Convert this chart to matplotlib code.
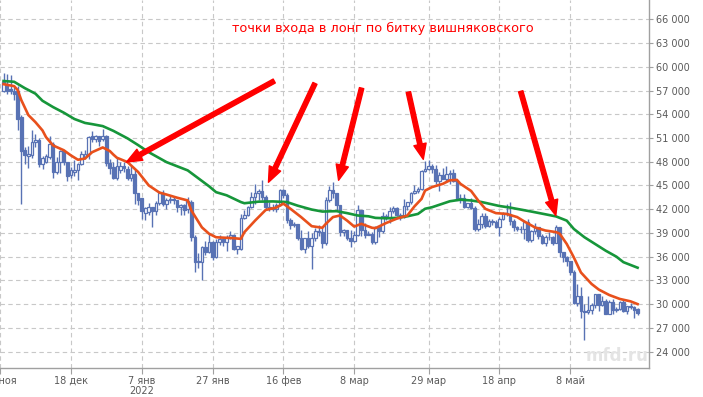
import matplotlib

matplotlib.use("Agg")
import matplotlib.dates as mdates
import matplotlib.pyplot as plt
import numpy as np
import pandas as pd

# дневные свечи BTC, 29 ноя 2021 - 27 май 2022
DAYS = pd.date_range("2021-11-29", "2022-05-27", freq="D")

OPEN = [
    57000, 57800,  # ноя
    57200, 56900, 56900, 53600, 49500, 48700, 48800, 50550, 50800, 47750,
    48000, 48600, 50300, 46700, 47950, 49350, 47950, 46300, 46700, 46900,
    47700, 48600, 49000, 51300, 50900, 51200, 50900, 51300, 47800, 47300, 46000,
    46900, 47500, 47100, 45900, 46400, 44000, 43400, 41500, 41700, 42300,  # янв
    41800, 42800, 44000, 42700, 43200, 43300, 43100, 42300, 42500, 42000,
    42900, 38500, 35300, 35300, 37200, 36600, 37800, 36000, 37900, 38200, 37800,
    38500, 38700, 37000, 37000, 40900, 41300, 42300, 43600, 44000, 44300,  # фев
    43500, 42300, 42100, 42000, 42500, 44400, 43800, 40600, 40000, 40100,
    38400, 37000, 38300, 37300, 38300, 39200, 39100, 37700,
    43200, 44400, 44000, 42500, 39100, 39400, 38400, 38000, 38700, 41900,  # мар
    39400, 38700, 38800, 37800, 39700, 39300, 41100, 40900, 41800, 42200,
    41300, 41000, 42400, 42900, 44000, 44300, 44500, 46800, 47100, 47500, 47100,
    45500, 46300, 45800, 46400, 46600, 45500, 43200, 43400, 42300, 42800,  # апр
    42200, 39500, 40100, 41100, 39900, 40500, 40400, 39700, 40800, 41500,
    41400, 40500, 39700, 39500, 39500, 40400, 38100, 39200, 39700, 38600,
    37700, 38500, 38500, 37700, 39700, 36600, 36000, 35500, 34100, 30100,  # май
    31000, 29100, 29000, 29300, 29900, 31300, 29900, 30400, 28700, 30300,
    29200, 29400, 30300, 29100, 29700, 29600, 29400,
]
HIGH = [
    59200, 59100,
    59000, 57400, 57600, 53900, 49800, 50000, 52000, 51500, 51000, 48700,
    49000, 51200, 50500, 48600, 49500, 49400, 48000, 47300, 48200, 47800,
    49300, 49500, 51300, 51900, 51400, 51300, 52100, 51400, 48300, 47900, 48500,
    47900, 47900, 47500, 47400, 47000, 44000, 43400, 42300, 42800, 42300,
    43000, 44300, 44400, 43400, 43700, 43500, 43200, 42700, 42600, 43600,
    43100, 38700, 36500, 37300, 38000, 38800, 38000, 38200, 38700, 38300, 38700,
    39300, 38800, 37400, 41400, 41900, 42400, 44200, 45200, 44600, 45700,
    43800, 42900, 42600, 42800, 44600, 44500, 44100, 40900, 40400, 40100,
    39400, 38400, 39200, 39000, 39600, 40000, 39800, 43600,
    44900, 45400, 44100, 42500, 39500, 39400, 39400, 39300, 42500, 41900,
    40200, 39300, 39100, 39900, 39900, 41700, 41400, 42300, 42400, 42300,
    41500, 43300, 42900, 44200, 45100, 44800, 46900, 48100, 48200, 47700, 47600,
    46700, 47200, 47400, 46900, 47100, 45500, 43900, 43900, 42800, 43400,
    42400, 40700, 41500, 41500, 40800, 40700, 40600, 41000, 41700, 42700,
    42900, 40700, 39900, 39900, 40600, 40800, 39400, 40300, 39800, 38800,
    38700, 39100, 38600, 40000, 39800, 36600, 36100, 35500, 34300, 32600,
    32100, 30000, 31000, 30200, 31300, 31300, 31000, 30600, 30500, 30700,
    29600, 30400, 30600, 29800, 30200, 29800, 29500,
]
LOW = [
    56800, 56500,
    56500, 55800, 52000, 42600, 47700, 47200, 48500, 49800, 47300, 47100,
    47800, 48300, 45900, 46400, 46600, 47600, 45600, 45900, 46200, 45700,
    47600, 48400, 48400, 50500, 50500, 50000, 50600, 47500, 46400, 45800, 45700,
    46600, 46700, 45700, 45500, 42600, 42500, 40800, 40600, 41300, 39800,
    41300, 42500, 42400, 42000, 42800, 42700, 41600, 41300, 41300, 41500,
    38000, 34100, 34600, 33000, 36200, 36400, 35600, 35800, 37500, 37400, 36700,
    38200, 36800, 36300, 36900, 40800, 41100, 42100, 42700, 43100, 43200,
    41900, 41800, 41800, 41600, 42400, 43400, 40200, 39500, 39700, 38100,
    36900, 36400, 37100, 34500, 38000, 38600, 37100, 37500,
    42900, 43400, 41900, 38600, 38600, 38100, 37200, 37900, 38600, 38600,
    38300, 38700, 37600, 37600, 38500, 39000, 40600, 40200, 41500, 41100,
    40600, 40900, 41900, 42700, 43900, 44100, 44400, 46700, 46900, 46600, 45200,
    44300, 45800, 45600, 45200, 45400, 43100, 42800, 42200, 42100, 42000,
    39300, 39300, 39600, 39600, 39800, 40000, 39600, 38600, 40600, 41100,
    40000, 39200, 39300, 39000, 38200, 37900, 37900, 38900, 38200, 37600,
    37400, 38100, 37500, 37700, 35900, 35300, 34800, 33700, 30000, 29800,
    28200, 25500, 28800, 28700, 29500, 29100, 29800, 28700, 28700, 28800,
    29000, 29300, 29000, 28700, 29400, 28300, 28600,
]
CLOSE = [
    58100, 57000,
    56900, 56500, 53400, 49400, 48900, 48950, 50500, 50800, 47750, 48500,
    48700, 50300, 46700, 47950, 49350, 47950, 46150, 46900, 46900, 47700,
    49000, 49000, 51100, 50900, 51300, 50600, 51300, 47800, 47200, 46000, 47500,
    47500, 47200, 46000, 46400, 44000, 43200, 41800, 42200, 42300, 41800,
    42800, 44000, 42700, 43200, 43300, 43100, 42300, 42500, 41900, 43000,
    38500, 35300, 35500, 37200, 36600, 37800, 36000, 37900, 38200, 37800, 38500,
    38700, 37000, 37300, 40900, 41300, 42300, 43600, 44000, 44300, 43500,
    42300, 42100, 42000, 42500, 44400, 43800, 40600, 40000, 40100, 38400,
    37000, 38300, 37300, 38300, 39200, 39100, 37700, 43200,
    44400, 44000, 42500, 39100, 39400, 38400, 38000, 38700, 41900, 39400,
    38700, 38800, 37800, 39700, 39300, 41100, 40900, 41800, 42200, 41300,
    41000, 42400, 42900, 44000, 44300, 44500, 46800, 47100, 47500, 47100, 45500,
    46300, 45800, 46400, 46600, 45500, 43200, 43400, 42300, 42800, 42200,
    39500, 40100, 41100, 39900, 40500, 40400, 39700, 40800, 41500, 41400,
    40500, 39700, 39500, 39500, 40400, 38100, 39200, 39700, 38600, 37700,
    38500, 38500, 37700, 39700, 36600, 36000, 35500, 34100, 30100, 31000,
    29100, 29000, 29300, 29900, 31300, 29900, 30400, 28700, 30300, 29200,
    29400, 30300, 29100, 29700, 29600, 29300, 28900,
]

# скользящие средние
FAST_MA_DATES = [
    "2021-11-29", "2021-12-02", "2021-12-03", "2021-12-04", "2021-12-06",
    "2021-12-08", "2021-12-10", "2021-12-11", "2021-12-13", "2021-12-16",
    "2021-12-18", "2021-12-20", "2021-12-22", "2021-12-24", "2021-12-27",
    "2021-12-29", "2021-12-30", "2021-12-31", "2022-01-03", "2022-01-06",
    "2022-01-09", "2022-01-12", "2022-01-14", "2022-01-17", "2022-01-20",
    "2022-01-21", "2022-01-24", "2022-01-26", "2022-01-28", "2022-01-30",
    "2022-02-02", "2022-02-04", "2022-02-05", "2022-02-08", "2022-02-11",
    "2022-02-14", "2022-02-16", "2022-02-18", "2022-02-21", "2022-02-24",
    "2022-02-27", "2022-02-28", "2022-03-02", "2022-03-04", "2022-03-06",
    "2022-03-08", "2022-03-10", "2022-03-13", "2022-03-14", "2022-03-17",
    "2022-03-20", "2022-03-23", "2022-03-25", "2022-03-27", "2022-03-28",
    "2022-03-30", "2022-04-02", "2022-04-04", "2022-04-06", "2022-04-07",
    "2022-04-10", "2022-04-12", "2022-04-14", "2022-04-17", "2022-04-20",
    "2022-04-23", "2022-04-25", "2022-04-28", "2022-05-01", "2022-05-04",
    "2022-05-05", "2022-05-07", "2022-05-09", "2022-05-11", "2022-05-14",
    "2022-05-16", "2022-05-19", "2022-05-22", "2022-05-25", "2022-05-27",
]
FAST_MA = [
    57800, 57550, 57050, 55800, 53900, 53000, 51950, 51100, 50050, 49450,
    48800, 48250, 48400, 49200, 49800, 49350, 48900, 48500, 47950, 46700,
    45000, 44100, 43850, 43450, 43100, 41850, 39700, 38900, 38450, 38400,
    38330, 38250, 39100, 40550, 41900, 42200, 42700, 42050, 41000, 39850,
    39650, 40150, 41000, 41200, 40550, 39800, 40150, 39650, 39600, 40250,
    40800, 41200, 42350, 43300, 44350, 44800, 45200, 45650, 45700, 45200,
    44300, 43100, 42050, 41500, 41400, 41000, 40450, 39700, 39300, 39100,
    38900, 37600, 35900, 34000, 32550, 31850, 31150, 30650, 30350, 30000,
]
SLOW_MA_DATES = [
    "2021-11-29", "2021-12-02", "2021-12-05", "2021-12-08", "2021-12-10",
    "2021-12-13", "2021-12-16", "2021-12-19", "2021-12-22", "2021-12-24",
    "2021-12-27", "2021-12-30", "2022-01-03", "2022-01-06", "2022-01-09",
    "2022-01-14", "2022-01-20", "2022-01-23", "2022-01-26", "2022-01-28",
    "2022-01-31", "2022-02-04", "2022-02-05", "2022-02-09", "2022-02-13",
    "2022-02-17", "2022-02-20", "2022-02-24", "2022-02-27", "2022-03-03",
    "2022-03-06", "2022-03-09", "2022-03-12", "2022-03-14", "2022-03-17",
    "2022-03-20", "2022-03-23", "2022-03-26", "2022-03-28", "2022-03-30",
    "2022-04-02", "2022-04-04", "2022-04-07", "2022-04-10", "2022-04-13",
    "2022-04-16", "2022-04-18", "2022-04-21", "2022-04-24", "2022-04-27",
    "2022-05-01", "2022-05-04", "2022-05-07", "2022-05-09", "2022-05-12",
    "2022-05-15", "2022-05-18", "2022-05-21", "2022-05-23", "2022-05-27",
]
SLOW_MA = [
    58200, 58100, 57300, 56600, 55700, 54900, 54200, 53400, 52900, 52750,
    52500, 51900, 50950, 50100, 49200, 47950, 46900, 45900, 44900, 44150,
    43750, 42900, 42750, 42950, 42980, 42900, 42450, 41950, 41700, 41750,
    41500, 41200, 41100, 40900, 40850, 40900, 41100, 41400, 42050, 42250,
    42700, 43000, 43200, 43100, 42900, 42600, 42400, 42200, 41950, 41700,
    41350, 41080, 40550, 39500, 38450, 37600, 36750, 36000, 35300, 34600,
]

# стрелки: хвост и острие (дата, цена)
ARROW_TAILS = [("2022-02-13 10:00", 58200), ("2022-02-24 22:00", 57900),
               ("2022-03-10 02:00", 57300), ("2022-03-23 07:00", 56800),
               ("2022-04-24", 56900)]
ARROW_TIPS = [("2022-01-02 17:00", 47950), ("2022-02-11 19:00", 45400),
              ("2022-03-03 14:00", 45650), ("2022-03-27 12:00", 48300),
              ("2022-05-03 22:00", 41200)]

TICK_DATES = ["2021-11-28", "2021-12-18", "2022-01-07", "2022-01-27", "2022-02-16",
              "2022-03-08", "2022-03-29", "2022-04-18", "2022-05-08"]
TICK_LABELS = ["28 ноя", "18 дек", "7 янв\n2022", "27 янв", "16 фев",
               "8 мар", "29 мар", "18 апр", "8 май"]
Y_TICKS = list(range(24000, 66001, 3000))

TITLE = "точки входа в лонг по битку вишняковского"

CANDLE = "#5872b4"
FAST_COLOR = "#e8501c"
SLOW_COLOR = "#16963a"

assert len(OPEN) == len(HIGH) == len(LOW) == len(CLOSE) == len(DAYS)

fig = plt.figure(figsize=(7.03, 3.97), dpi=100)
ax = fig.add_axes([0.0, 0.0723, 0.9236, 0.9277])

x = mdates.date2num(DAYS)
o, h, l, c = (np.array(v, dtype=float) for v in (OPEN, HIGH, LOW, CLOSE))
up = c >= o
ax.vlines(x, l, h, color=CANDLE, lw=1.0, zorder=2)
ax.bar(x[up], (c - o)[up], bottom=o[up], width=0.74, facecolor="white",
       edgecolor=CANDLE, lw=0.9, zorder=3)
ax.bar(x[~up], (o - c)[~up], bottom=c[~up], width=0.74, facecolor=CANDLE,
       edgecolor=CANDLE, lw=0.9, zorder=3)

ax.plot(pd.to_datetime(SLOW_MA_DATES), SLOW_MA, color=SLOW_COLOR, lw=1.9, zorder=4)
ax.plot(pd.to_datetime(FAST_MA_DATES), FAST_MA, color=FAST_COLOR, lw=1.9, zorder=5)

for tail, tip in zip(ARROW_TAILS, ARROW_TIPS):
    ax.annotate("", xy=(pd.Timestamp(tip[0]), tip[1]),
                xytext=(pd.Timestamp(tail[0]), tail[1]),
                arrowprops=dict(arrowstyle="simple,head_length=1.1,head_width=0.9,tail_width=0.32",
                                color="#ff0000", mutation_scale=10, shrinkA=0, shrinkB=0),
                zorder=6)

base = mdates.date2num(pd.Timestamp("2021-12-18"))
ax.set_xlim(base - 18.88, base + 163.3)
ax.set_ylim(21886, 68440)

ax.set_xticks(pd.to_datetime(TICK_DATES))
ax.set_xticklabels(TICK_LABELS, linespacing=1.05)
ax.set_yticks(Y_TICKS)
ax.yaxis.set_major_formatter(plt.FuncFormatter(lambda v, _: f"{int(v):,}".replace(",", " ")))
ax.yaxis.tick_right()
ax.tick_params(axis="both", colors="#a0a0a0", labelcolor="#5a5a5a", labelsize=7,
               width=0.8)
ax.tick_params(axis="y", length=3, pad=2)
ax.tick_params(axis="x", length=4, pad=1.5)

ax.grid(True, color="#c8c8c8", linestyle=(0, (4, 3)), lw=0.8, zorder=0)
for side in ("left", "top"):
    ax.spines[side].set_visible(False)
for side in ("right", "bottom"):
    ax.spines[side].set_color("#a0a0a0")
    ax.spines[side].set_linewidth(1.0)

fig.text(383 / 703, 1 - 28 / 397, TITLE, color="#ff0000", fontsize=9.3,
         ha="center", va="center")
fig.text(617 / 703, 1 - 356 / 397, "mfd.ru", color="#e4e4e4", fontsize=12,
         fontweight="bold", ha="center", va="center")

fig.savefig("out.png", dpi=100)
plt.close(fig)
